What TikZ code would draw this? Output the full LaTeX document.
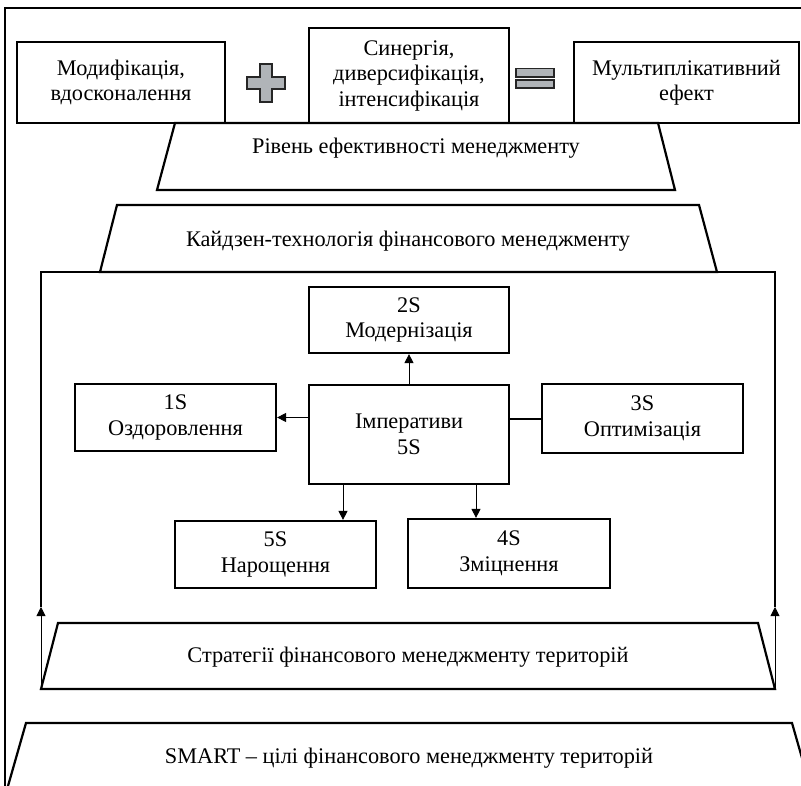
\documentclass[tikz,border=0pt]{standalone}
\usepackage{fontspec}
\setmainfont{Liberation Serif}
\usetikzlibrary{arrows.meta,calc}
\definecolor{signgray}{RGB}{176,180,184}
\begin{document}
\begin{tikzpicture}[x=1pt,y=-1pt,
  txt/.style={font=\fontsize{22.3}{25.5}\selectfont},
  box/.style={txt, draw, line width=2.2pt, fill=white, align=center, inner sep=0pt},
  lbl/.style={txt, align=center, inner sep=0pt},
  heavy/.style={line width=2.2pt, line join=miter},
  frameline/.style={line width=2pt},
  link/.style={line width=0.9pt, -{Triangle[length=9pt,width=9pt]}},
  sign/.style={draw=black!85, line width=1.2pt, fill=signgray}
]
\useasboundingbox (0,0) rectangle (801,786);

% outer frame (left and top sides)
\draw[frameline] (5,800) -- (5,8) -- (810,8);

% top row: the formula
\node[box, minimum width=208pt, minimum height=81pt] (mod) at (121,82.5)
  {Модифікація,\\вдосконалення};
\node[box, minimum width=200pt, minimum height=95pt] (syn) at (409,75.5)
  {Синергія,\\диверсифікація,\\інтенсифікація};
\node[box, minimum width=225pt, minimum height=81pt] (mult) at (686.5,82.5)
  {Мультиплікативний\\ефект};

% plus sign
\draw[sign] (260,64) -- (272,64) -- (272,77) -- (285,77) -- (285,89) -- (272,89)
  -- (272,102) -- (260,102) -- (260,89) -- (247,89) -- (247,77) -- (260,77) -- cycle;
% equals sign
\draw[sign] (516,68.5) rectangle (554,77);
\draw[sign] (516,80) rectangle (554,88);

% level of management efficiency
\draw[heavy] (175,123) -- (658,123) -- (675,190) -- (157,190) -- cycle;
\node[lbl] (level) at (416,148) {Рівень ефективності менеджменту};

% kaizen technology
\draw[heavy] (117,205) -- (699,205) -- (717,272) -- (100,272) -- cycle;
\node[lbl] (kaizen) at (408,241) {Кайдзен-технологія фінансового менеджменту};

% inner frame
\coordinate (fl) at (41,607);
\coordinate (fr) at (775,607);
\draw[heavy] (fl) -- (41,272) -- (775,272) -- (fr);

% 5S imperatives
\node[box, minimum width=200pt, minimum height=66pt] (s2) at (409,320)
  {2S\\Модернізація};
\node[box, minimum width=200pt, minimum height=99pt] (imp) at (409,434.5)
  {Імперативи\\5S};
\node[box, minimum width=201pt, minimum height=67pt] (s1) at (175.5,417.5)
  {1S\\Оздоровлення};
\node[box, minimum width=201pt, minimum height=69pt] (s3) at (642.5,418.5)
  {3S\\Оптимізація};
\node[box, minimum width=201pt, minimum height=67pt] (s5) at (275.5,554.5)
  {5S\\Нарощення};
\node[box, minimum width=202pt, minimum height=69pt] (s4) at (509,553.5)
  {4S\\Зміцнення};

\draw[link] (imp.north) -- (s2.south);
\draw[link] (imp.west |- s1.east) -- (s1.east);
\draw[line width=2pt] (imp.east |- s3.west) -- (s3.west);
\draw[link] ([xshift=-66pt]imp.south) -- ([xshift=-66pt]imp.south |- s5.north);
\draw[link] ([xshift=67pt]imp.south) -- ([xshift=67pt]imp.south |- s4.north);

% strategies
\coordinate (sl) at (41,689);
\coordinate (sr) at (775,689);
\draw[heavy] (58,623) -- (758,623) -- (sr) -- (sl) -- cycle;
\node[lbl] (strat) at (408,657) {Стратегії фінансового менеджменту територій};
\draw[link] (sl) -- (fl);
\draw[link] (sr) -- (fr);

% SMART goals
\draw[heavy] (4,800) -- (26,723) -- (792,723) -- (814,800);
\node[lbl] (smart) at (409,758) {SMART – цілі фінансового менеджменту територій};
\end{tikzpicture}
\end{document}
